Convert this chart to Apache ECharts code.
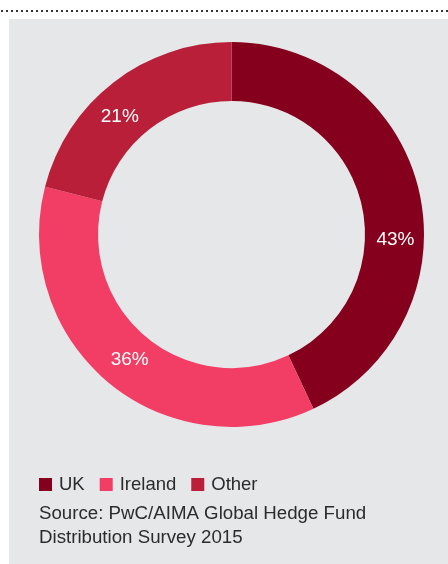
<!DOCTYPE html>
<html><head><meta charset="utf-8">
<script src="https://cdn.jsdelivr.net/npm/echarts@6/dist/echarts.min.js"></script>
<style>html,body{margin:0;padding:0;background:#fff}#c{width:448px;height:564px}</style>
</head><body><div id="c"></div>
<script>
const categories = ['UK', 'Ireland', 'Other'];
const values = [43, 36, 21];
const colors = ['#85001c', '#f23d65', '#b91f38'];
const sourceText = 'Source: PwC/AIMA Global Hedge Fund\nDistribution Survey 2015';

// small nudges of the value labels, as placed in the original
const labelNudge = [[2, 41], [4, -3], [-10, 13]];

const chart = echarts.init(document.getElementById('c'));
chart.setOption({
  animation: false,
  color: colors,
  graphic: [
    { type: 'rect', z: -10, shape: { x: 9, y: 19, width: 439, height: 545 }, style: { fill: '#e6e7e8' } },
    { type: 'line', shape: { x1: 1, y1: 11, x2: 448, y2: 11 }, style: { stroke: '#333', lineWidth: 2, lineDash: [2, 3] } }
  ],
  title: {
    text: sourceText, left: 39, top: 502, padding: 0,
    textStyle: { fontFamily: 'Liberation Sans', fontSize: 18.7, fontWeight: 'normal', color: '#2b2b2b', lineHeight: 24 }
  },
  legend: {
    left: 39, top: 475, padding: 0, icon: 'rect', itemWidth: 13, itemHeight: 13, itemGap: 15,
    data: categories,
    textStyle: { fontFamily: 'Liberation Sans', fontSize: 18.5, color: '#2b2b2b', padding: [0, 0, 0, 2] }
  },
  series: [{
    type: 'pie', center: [231.5, 234.5], radius: [133.5, 192.5], startAngle: 90, clockwise: true,
    label: { show: true, position: 'inside', formatter: '{c}%', color: '#fff', fontFamily: 'Liberation Sans', fontSize: 19 },
    labelLine: { show: false },
    labelLayout: function (p) { const n = labelNudge[p.dataIndex]; return { dx: n[0], dy: n[1] }; },
    emphasis: { disabled: true },
    itemStyle: { borderWidth: 0 },
    data: categories.map((n, i) => ({ name: n, value: values[i] }))
  }]
});
</script></body></html>
